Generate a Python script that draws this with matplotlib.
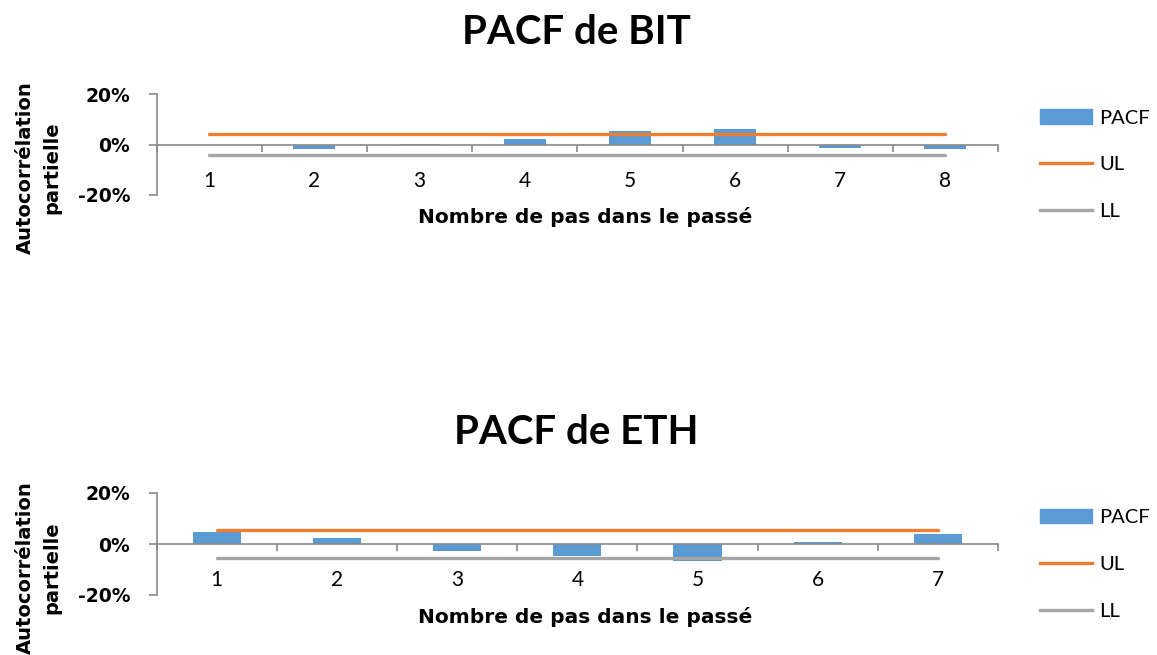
import matplotlib
matplotlib.use("Agg")
import matplotlib.pyplot as plt
from matplotlib.patches import Patch
from matplotlib.lines import Line2D
from matplotlib.ticker import FuncFormatter

plt.rcParams['font.family'] = ['Lato', 'DejaVu Sans']
plt.rcParams['xtick.major.pad'] = 19
plt.rcParams['xtick.major.size'] = 0

# ---- data ----
lags_bit = [1, 2, 3, 4, 5, 6, 7, 8]
pacf_bit = [0.0, -0.017, 0.003, 0.021, 0.053, 0.061, -0.013, -0.016]
ul_bit = [0.041] * 8
ll_bit = [-0.041] * 8

lags_eth = [1, 2, 3, 4, 5, 6, 7]
pacf_eth = [0.049, 0.023, -0.027, -0.048, -0.065, 0.009, 0.039]
ul_eth = [0.053] * 7
ll_eth = [-0.053] * 7

titles = ["PACF de BIT", "PACF de ETH"]
xlabel = "Nombre de pas dans le passé"
ylabel = "Autocorrélation\npartielle"
yticks = [-0.2, 0.0, 0.2]
legend_labels = ["PACF", "UL", "LL"]

BLUE = "#5B9BD5"
ORANGE = "#ED7D31"
GRAY = "#A5A5A5"
AXIS = "#898989"
BOLDFONT = ['DejaVu Sans']

W, H = 1157, 655
fig = plt.figure(figsize=(W / 100, H / 100), dpi=100)


def fx(px):
    return px / W


def fy(py):
    return 1 - py / H


def make_panel(ax_rect, lags, pacf, ul, ll, title, title_y):
    ax = fig.add_axes(ax_rect)
    n = len(lags)
    ax.bar(lags, pacf, width=0.4, color=BLUE, zorder=2)
    ax.plot(lags, ul, color=ORANGE, lw=2.4, solid_capstyle='round', zorder=3)
    ax.plot(lags, ll, color=GRAY, lw=2.4, solid_capstyle='round', zorder=3)
    ax.set_xlim(0.5, n + 0.5)
    ax.set_ylim(-0.2, 0.2)
    for s in ['top', 'right']:
        ax.spines[s].set_visible(False)
    ax.spines['bottom'].set_position(('data', 0))
    ax.spines['bottom'].set_color(AXIS)
    ax.spines['left'].set_color(AXIS)
    ax.spines['bottom'].set_linewidth(1.2)
    ax.spines['left'].set_linewidth(1.2)
    ax.set_xticks(lags)
    ax.set_xticks([i + 0.5 for i in range(n + 1)], minor=True)
    ax.tick_params(axis='x', which='major', length=0, pad=19, labelsize=15,
                   labelcolor='black')
    ax.tick_params(axis='x', which='minor', length=5, direction='out',
                   color=AXIS, width=1.2)
    ax.set_yticks(yticks)
    ax.yaxis.set_major_formatter(FuncFormatter(lambda v, p: f"{round(v*100)}%"))
    ax.tick_params(axis='y', length=6, color=AXIS, width=1.2, pad=13, labelsize=13.5)
    for t in ax.get_yticklabels():
        t.set_fontweight('bold')
        t.set_family(BOLDFONT)
    ax.set_xlabel(xlabel, fontsize=14.5, fontweight='bold', va='center',
                  family=BOLDFONT)
    ax.xaxis.set_label_coords(0.509, -0.218)
    ax.set_ylabel(ylabel, fontsize=14, fontweight='bold', va='center', ha='center',
                  linespacing=1.5, family=BOLDFONT)
    ax.yaxis.set_label_coords(-0.1398, 0.27)
    handles = [Patch(color=BLUE), Line2D([], [], color=ORANGE, lw=2.4),
               Line2D([], [], color=GRAY, lw=2.4)]
    ax.legend(handles, legend_labels, loc='center left', bbox_to_anchor=(1.050, 0.30),
              frameon=False, borderpad=0, borderaxespad=0, fontsize=14.5,
              handlelength=2.6, handletextpad=0.35, labelspacing=1.47)
    fig.text(fx(576), fy(title_y), title, fontsize=29, fontweight='bold',
             ha='center', va='center')
    return ax


make_panel([fx(156.7), fy(195), fx(998) - fx(156.7), fy(94) - fy(195)],
           lags_bit, pacf_bit, ul_bit, ll_bit, titles[0], 32.5)
make_panel([fx(156.7), fy(595), fx(998) - fx(156.7), fy(493) - fy(595)],
           lags_eth, pacf_eth, ul_eth, ll_eth, titles[1], 432)

fig.savefig("out.png", dpi=100)
